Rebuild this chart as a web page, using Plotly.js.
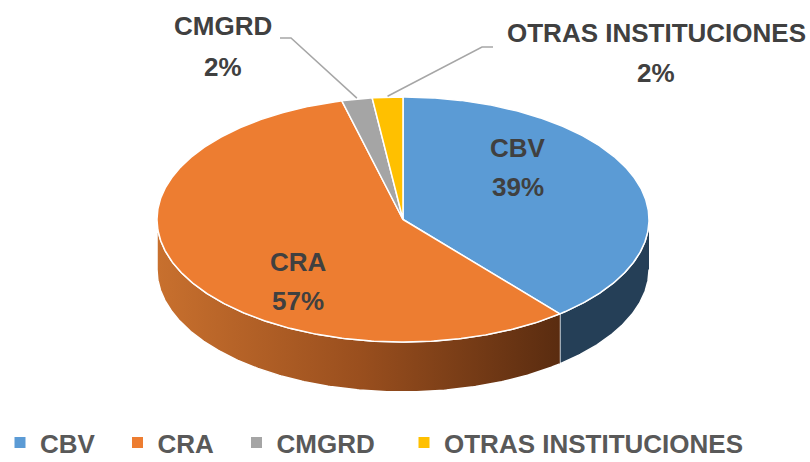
<!DOCTYPE html>
<html>
<head>
<meta charset="utf-8">
<script src="https://cdn.plot.ly/plotly-3.0.1.min.js"></script>
<style>html,body{margin:0;padding:0;background:#fff;}#chart{width:810px;height:462px;}</style>
</head>
<body>
<div id="chart"></div>
<script>
// ---- data ----
const categories = ['CBV', 'CRA', 'CMGRD', 'OTRAS INSTITUCIONES'];
const values = [39, 57, 2, 2];
const topColors = ['#5b9bd5', '#ed7d31', '#a5a5a5', '#ffc000'];
const sideColors = ['#253f57', '#8a4418', '#636363', '#9a7400'];

// ---- geometry (pixel space of the 3D pie) ----
const CX = 403, CY = 219.5, RX = 246, RY = 122.5, DEPTH = 50;
const FONT = 'Liberation Sans, Arial, sans-serif';
const TXT = '#404040';

function pt(theta, dy) {
  const r = theta * Math.PI / 180;
  return [CX + RX * Math.sin(r), CY - RY * Math.cos(r) + (dy || 0)];
}
function arc(a, b, dy) {
  const xs = [], ys = [];
  const n = Math.max(2, Math.ceil(Math.abs(b - a) / 0.5));
  for (let i = 0; i <= n; i++) {
    const p = pt(a + (b - a) * i / n, dy);
    xs.push(p[0]); ys.push(p[1]);
  }
  return [xs, ys];
}

const total = values.reduce((s, v) => s + v, 0);
const slices = [];
let acc = 0;
values.forEach((v, i) => {
  const a = acc / total * 360;
  acc += v;
  const b = acc / total * 360;
  slices.push({a, b, mid: (a + b) / 2, i});
});

const traces = [];
// side walls (front half only)
slices.forEach(s => {
  const lo = Math.max(s.a, 90), hi = Math.min(s.b, 270);
  if (lo >= hi) return;
  const top = arc(lo, hi, 0), bot = arc(hi, lo, DEPTH);
  const t = {
    type: 'scatter', mode: 'lines', fill: 'toself',
    x: top[0].concat(bot[0]), y: top[1].concat(bot[1]),
    line: {color: '#ffffff', width: 1.5},
    fillcolor: sideColors[s.i], hoverinfo: 'skip', showlegend: false
  };
  if (s.i === 1) {
    t.fillgradient = {type: 'horizontal', colorscale: [[0, '#c8702e'], [0.5, '#9a4f1e'], [1, '#5a2c10']]};
  }
  traces.push(t);
});
// top faces
slices.forEach(s => {
  const ar = arc(s.a, s.b, 0);
  traces.push({
    type: 'scatter', mode: 'lines', fill: 'toself',
    x: [CX].concat(ar[0], [CX]), y: [CY].concat(ar[1], [CY]),
    line: {color: '#ffffff', width: 1.5},
    fillcolor: topColors[s.i], hoverinfo: 'skip', showlegend: false
  });
});

// leader lines for the two small slices
const leaderAnchors = [
  {i: 2, knee: [291, 38], end: [280, 38]},
  {i: 3, knee: [482, 47], end: [493, 47]}
];
leaderAnchors.forEach(l => {
  const p = pt(slices[l.i].mid, 0);
  traces.push({
    type: 'scatter', mode: 'lines',
    x: [p[0], l.knee[0], l.end[0]], y: [p[1] - 1, l.knee[1], l.end[1]],
    line: {color: '#a6a6a6', width: 1.5}, hoverinfo: 'skip', showlegend: false
  });
});

// legend entries (one legend each so spacing matches)
const legendIds = ['legend', 'legend2', 'legend3', 'legend4'];
categories.forEach((c, i) => {
  traces.push({
    type: 'scatter', mode: 'markers', x: [null], y: [null], name: c,
    marker: {symbol: 'square', size: 11, color: topColors[i]},
    legend: legendIds[i], hoverinfo: 'skip'
  });
});

// data labels
const labelPos = [
  {x: 518, y1: 148, y2: 187},
  {x: 298, y1: 262, y2: 301},
  {x: 223, y1: 26, y2: 67},
  {x: 656, y1: 33, y2: 73}
];
const annotations = [];
categories.forEach((c, i) => {
  const lp = labelPos[i];
  const f = {family: FONT, size: 26, color: TXT, weight: 700};
  annotations.push({x: lp.x, y: lp.y1, xref: 'x', yref: 'y', text: c, showarrow: false, font: f, xanchor: 'center', yanchor: 'middle'});
  annotations.push({x: lp.x, y: lp.y2, xref: 'x', yref: 'y', text: values[i] + '%', showarrow: false, font: f, xanchor: 'center', yanchor: 'middle'});
});

const legendX = [0, 117.5, 236.5, 404];
const layout = {
  width: 810, height: 462,
  margin: {l: 0, r: 0, t: 0, b: 0, autoexpand: false},
  paper_bgcolor: '#ffffff', plot_bgcolor: '#ffffff',
  xaxis: {range: [0, 810], visible: false, fixedrange: true},
  yaxis: {range: [462, 0], visible: false, fixedrange: true},
  annotations: annotations,
  showlegend: true
};
legendIds.forEach((id, i) => {
  layout[id] = {
    x: legendX[i] / 810, xanchor: 'left', y: 0.042, yanchor: 'middle',
    orientation: 'h', bgcolor: 'rgba(0,0,0,0)', borderwidth: 0,
    font: {family: FONT, size: 26, color: '#595959', weight: 700}
  };
});

Plotly.newPlot('chart', traces, layout, {displayModeBar: false, staticPlot: true});
</script>
</body>
</html>
